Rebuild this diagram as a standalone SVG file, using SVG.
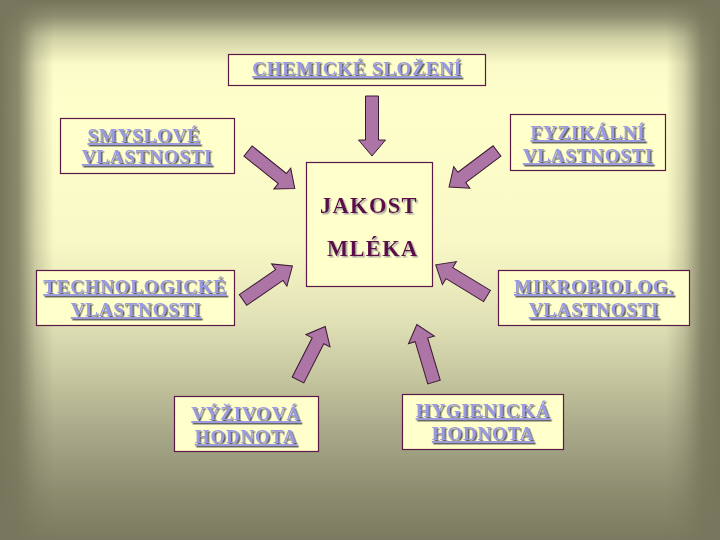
<svg xmlns="http://www.w3.org/2000/svg" xmlns:xlink="http://www.w3.org/1999/xlink" width="720" height="540" viewBox="0 0 720 540">
<style>
.box{fill:#ffffcc;stroke:#5a1a45;stroke-width:1.2}
.lbl{font-family:"Liberation Serif","Times New Roman",serif;font-weight:bold;font-size:19px;letter-spacing:0.8px;fill:#9a9ae2;text-decoration:underline;text-anchor:middle;filter:url(#sh)}
.ctr{font-family:"Liberation Serif","Times New Roman",serif;font-weight:bold;font-size:22.5px;letter-spacing:1.3px;fill:#5c0a48;filter:url(#sh2)}
.arr{fill:#ad74a6;stroke:#3a1a33;stroke-width:1}
</style>
<defs>
<linearGradient id="gv" x1="0" y1="0" x2="0" y2="1">
<stop offset="0" stop-color="#74745b"/>
<stop offset="0.03" stop-color="#8d8d70"/>
<stop offset="0.07" stop-color="#d0d0a6"/>
<stop offset="0.12" stop-color="#fbfbc9"/>
<stop offset="0.2" stop-color="#ffffcc"/>
<stop offset="0.45" stop-color="#f8f8c6"/>
<stop offset="0.6" stop-color="#e0e0b6"/>
<stop offset="0.72" stop-color="#bfbf9a"/>
<stop offset="0.82" stop-color="#a3a385"/>
<stop offset="0.92" stop-color="#8a8a6e"/>
<stop offset="1" stop-color="#7a7a60"/>
</linearGradient>
<linearGradient id="gh" x1="0" y1="0" x2="1" y2="0">
<stop offset="0" stop-color="#76765c" stop-opacity="1"/>
<stop offset="0.025" stop-color="#76765c" stop-opacity="0.85"/>
<stop offset="0.05" stop-color="#76765c" stop-opacity="0.3"/>
<stop offset="0.075" stop-color="#76765c" stop-opacity="0"/>
<stop offset="0.925" stop-color="#76765c" stop-opacity="0"/>
<stop offset="0.95" stop-color="#76765c" stop-opacity="0.3"/>
<stop offset="0.975" stop-color="#76765c" stop-opacity="0.85"/>
<stop offset="1" stop-color="#76765c" stop-opacity="1"/>
</linearGradient>
<filter id="sh" x="-10%" y="-30%" width="120%" height="160%">
<feDropShadow dx="1.5" dy="1.5" stdDeviation="0.3" flood-color="#505050" flood-opacity="0.9"/>
</filter>
<filter id="sh2" x="-10%" y="-30%" width="120%" height="160%">
<feDropShadow dx="1.5" dy="1.5" stdDeviation="0.3" flood-color="#a0a0a0" flood-opacity="0.9"/>
</filter>
<path id="ar" class="arr" d="M0,-6.5 L44,-6.5 L44,-13.5 L60,0 L44,13.5 L44,6.5 L0,6.5 Z"/>
</defs>
<rect width="720" height="540" fill="url(#gv)"/>
<rect width="720" height="540" fill="url(#gh)"/>
<g id="connectors">
<use xlink:href="#ar" transform="translate(372,96) rotate(90)"/>
<use xlink:href="#ar" transform="translate(248,151) rotate(38.8)"/>
<use xlink:href="#ar" transform="translate(497,151) rotate(143.1)"/>
<use xlink:href="#ar" transform="translate(243,300) rotate(-34.5)"/>
<use xlink:href="#ar" transform="translate(487,296) rotate(-148.7)"/>
<use xlink:href="#ar" transform="translate(298,380) rotate(-63)"/>
<use xlink:href="#ar" transform="translate(434,382) rotate(-106.6)"/>
</g>
<g id="chem">
<rect class="box" x="228.5" y="54.5" width="257" height="31"/>
<text class="lbl" x="357" y="75">CHEMICKÉ SLOŽENÍ</text>
</g>
<g id="smysl">
<rect class="box" x="60.5" y="118.5" width="174" height="55"/>
<text class="lbl" x="144" y="142">SMYSLOVÉ</text>
<text class="lbl" x="147" y="163">VLASTNOSTI</text>
</g>
<g id="fyz">
<rect class="box" x="510.5" y="114.5" width="155" height="56"/>
<text class="lbl" x="588" y="139">FYZIKÁLNÍ</text>
<text class="lbl" x="588" y="162">VLASTNOSTI</text>
</g>
<g id="jakost">
<rect class="box" x="306.5" y="162.5" width="126" height="124"/>
<text class="ctr" x="320" y="213">JAKOST</text>
<text class="ctr" x="327" y="256">MLÉKA</text>
</g>
<g id="tech">
<rect class="box" x="36.5" y="270.5" width="198" height="55"/>
<text class="lbl" x="135" y="293">TECHNOLOGICKÉ</text>
<text class="lbl" x="136" y="316">VLASTNOSTI</text>
</g>
<g id="mikro">
<rect class="box" x="498.5" y="270.5" width="191" height="55"/>
<text class="lbl" x="594" y="293">MIKROBIOLOG.</text>
<text class="lbl" x="594" y="316">VLASTNOSTI</text>
</g>
<g id="vyziv">
<rect class="box" x="174.5" y="396.5" width="144" height="55"/>
<text class="lbl" x="246" y="420">VÝŽIVOVÁ</text>
<text class="lbl" x="246" y="443">HODNOTA</text>
</g>
<g id="hyg">
<rect class="box" x="402.5" y="394.5" width="161" height="55"/>
<text class="lbl" x="483" y="417">HYGIENICKÁ</text>
<text class="lbl" x="483" y="440">HODNOTA</text>
</g>
</svg>
